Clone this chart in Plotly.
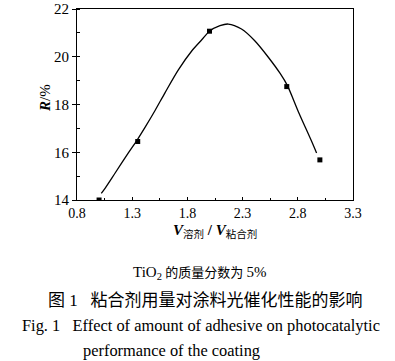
import plotly.graph_objects as go

# Measured data points (markers)
ratio = [1.0, 1.35, 2.0, 2.7, 3.0]
r_pct = [14.0, 16.45, 21.07, 18.75, 15.68]

# Smooth fitted curve
curve_x = [1.02, 1.054, 1.144, 1.265, 1.346, 1.416, 1.507, 1.598, 1.718, 1.839,
           1.93, 2.0, 2.095, 2.17, 2.29, 2.41, 2.533, 2.64, 2.705, 2.805, 2.926, 2.97]
curve_y = [14.28, 14.49, 15.12, 15.97, 16.52, 17.04, 17.75, 18.5, 19.45, 20.24,
           20.71, 21.07, 21.30, 21.37, 21.16, 20.67, 19.98, 19.3, 18.8, 17.7, 16.45, 15.97]

x_ticks = [0.8, 1.3, 1.8, 2.3, 2.8, 3.3]
y_ticks = [14, 16, 18, 20, 22]

W, H = 395, 361
L, R, T, B = 77, 353, 9, 200


def px(x):
    return (x - L) / (R - L)


def py(y):
    return (B - y) / (B - T)


SERIF = "Liberation Serif, Times New Roman, serif"
MIX = "Liberation Serif, Noto Sans CJK SC, serif"

fig = go.Figure()
fig.add_trace(go.Scatter(x=curve_x, y=curve_y, mode="lines",
                         line=dict(color="black", width=1.3, shape="spline", smoothing=0.8),
                         hoverinfo="skip"))
fig.add_trace(go.Scatter(x=ratio, y=r_pct, mode="markers",
                         marker=dict(symbol="square", size=5, color="black")))

fig.update_layout(
    template="none",
    width=W, height=H,
    margin=dict(l=L, r=W - R, t=T, b=H - B, pad=0, autoexpand=False),
    paper_bgcolor="white", plot_bgcolor="white",
    showlegend=False,
    font=dict(family=SERIF, size=14, color="black"),
)
fig.update_xaxes(range=[0.8, 3.3], tickvals=x_ticks, ticktext=[f"{v:.1f}" for v in x_ticks],
                 automargin=False,
                 showgrid=False, zeroline=False, showline=True, linecolor="black", linewidth=1,
                 mirror=True, ticks="inside", ticklen=3, tickcolor="black",
                 minor=dict(dtick=0.25, tick0=0.8, ticks="inside", ticklen=2, tickcolor="black",
                            showgrid=False),
                 tickfont=dict(family=SERIF, size=14))
fig.update_yaxes(range=[14, 22], tickvals=y_ticks,
                 automargin=False,
                 showgrid=False, zeroline=False, showline=True, linecolor="black", linewidth=1,
                 mirror=True, ticks="outside", ticklen=4, tickcolor="black",
                 minor=dict(dtick=1, tick0=14, ticks="inside", ticklen=3, tickcolor="black",
                            showgrid=False),
                 tickfont=dict(family=SERIF, size=15))

ann = [
    dict(x=px(215), y=py(231), text="<b><i>V</i></b><sub>溶剂</sub><b> / <i>V</i></b><sub>粘合剂</sub>",
         font=dict(family=MIX, size=15), xanchor="center", yanchor="middle"),
    dict(x=px(45), y=py(98), text="<b><i>R</i></b>/%", textangle=-90,
         font=dict(family=SERIF, size=15), xanchor="center", yanchor="middle"),
    dict(x=px(199), y=py(273),
         text="<span style='font-size:15px'>TiO<sub>2</sub></span> 的质量分数为 "
              "<span style='font-size:15px'>5%</span>",
         font=dict(family=MIX, size=13), xanchor="center", yanchor="middle"),
    dict(x=px(46), y=py(300), text="图 1   粘合剂用量对涂料光催化性能的影响",
         font=dict(family=MIX, size=17), xanchor="left", yanchor="middle"),
    dict(x=px(20), y=py(325), text="Fig. 1   Effect of amount of adhesive on photocatalytic",
         font=dict(family=SERIF, size=16.4), xanchor="left", yanchor="middle"),
    dict(x=px(81), y=py(350), text="performance of the coating",
         font=dict(family=SERIF, size=16.4), xanchor="left", yanchor="middle"),
]
for a in ann:
    a.update(xref="paper", yref="paper", showarrow=False)
fig.update_layout(annotations=ann)

fig.write_html("out.html", config={"displayModeBar": False},
               post_script="document.body.style.margin='0';document.body.style.padding='0';")
